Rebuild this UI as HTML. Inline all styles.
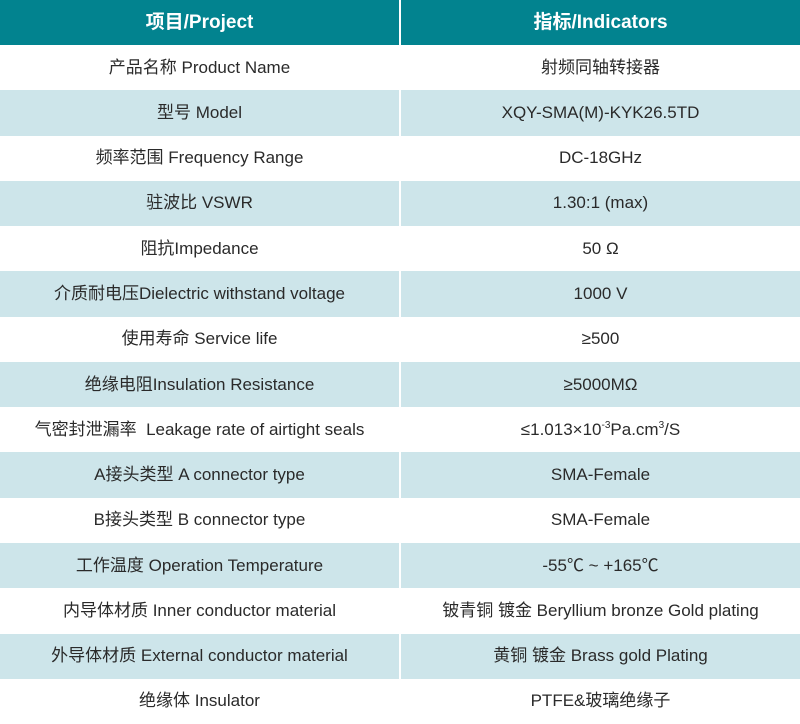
<!DOCTYPE html>
<html><head><meta charset="utf-8"><style>
body{margin:0;width:800px;height:724px;background:#fff;overflow:hidden;font-family:"Liberation Sans","Noto Sans CJK SC",sans-serif;}
.c{position:absolute;display:flex;align-items:center;justify-content:center;color:#2a2a2a;font-size:17px;line-height:20px;}
.c span{display:block;height:20px;line-height:20px;white-space:nowrap;}
.h{background:#02838f;color:#fff;font-size:19px;font-weight:bold;}
.b{background:#cde5ea;}
sup{font-size:10px;line-height:0;vertical-align:0;position:relative;top:-7px;}
</style></head><body>
<div id="t"></div>
<script>
var rows=[["项目/Project","指标/Indicators"],
["产品名称 Product Name","射频同轴转接器"],
["型号 Model","XQY-SMA(M)-KYK26.5TD"],
["频率范围 Frequency Range","DC-18GHz"],
["驻波比 VSWR","1.30:1 (max)"],
["阻抗Impedance","50 Ω"],
["介质耐电压Dielectric withstand voltage","1000 V"],
["使用寿命 Service life","≥500"],
["绝缘电阻Insulation Resistance","≥5000MΩ"],
["气密封泄漏率 &nbsp;Leakage rate of airtight seals","≤1.013×10<sup>-3</sup>Pa.cm<sup>3</sup>/S"],
["A接头类型 A connector type","SMA-Female"],
["B接头类型 B connector type","SMA-Female"],
["工作温度 Operation Temperature","-55℃ ~ +165℃"],
["内导体材质 Inner conductor material","铍青铜 镀金 Beryllium bronze Gold plating"],
["外导体材质 External conductor material","黄铜 镀金 Brass gold Plating"],
["绝缘体 Insulator","PTFE&amp;玻璃绝缘子"]];
var h="";
for(var i=0;i<rows.length;i++){
 var y=i==0?0:45+(i-1)*45.27, ht=i==0?45:45.27;
 var cls=i==0?"c h":(i%2==0?"c b":"c");
 h+='<div class="'+cls+'" style="left:0;top:'+y+'px;width:399px;height:'+ht+'px"><span>'+rows[i][0]+'</span></div>';
 h+='<div class="'+cls+'" style="left:401px;top:'+y+'px;width:399px;height:'+ht+'px"><span>'+rows[i][1]+'</span></div>';
}
document.getElementById("t").innerHTML=h;
</script>
</body></html>
